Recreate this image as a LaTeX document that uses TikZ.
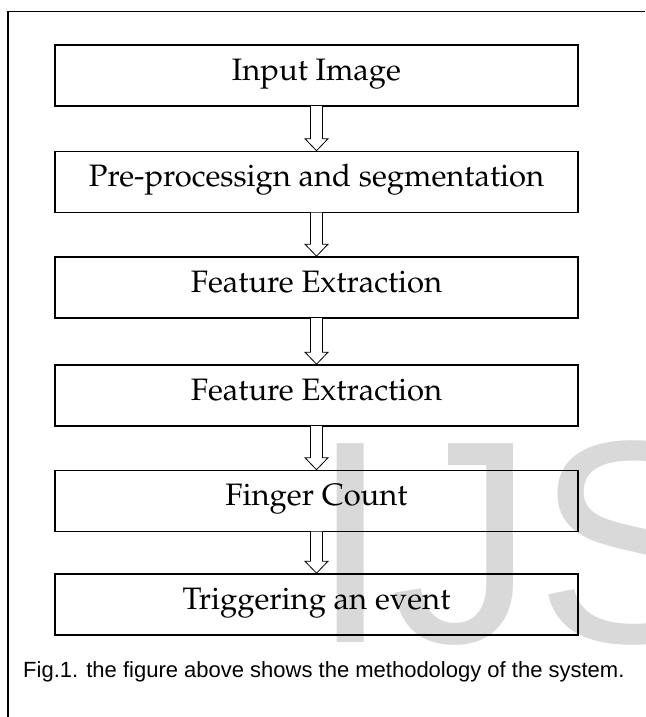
\documentclass[tikz,border=0pt]{standalone}
\usepackage[T1]{fontenc}
\usepackage{fontspec}
\newfontfamily\capfont{Liberation Sans}
\newcommand\pagfont{\fontencoding{T1}\fontfamily{ppl}\selectfont}
\usetikzlibrary{calc}
\newcommand\myblockarrow[2]{%
  \fill[white] let \p1=(#1.south), \p2=(#2.north) in
    (\x1-6pt,\y1+0.8pt) -- (\x1-6pt,\y2+12pt) -- (\x1-11.5pt,\y2+12pt) -- (\x1,\y2)
    -- (\x1+11.5pt,\y2+12pt) -- (\x1+6pt,\y2+12pt) -- (\x1+6pt,\y1+0.8pt) -- cycle;
  \draw[harrow] let \p1=(#1.south), \p2=(#2.north) in
    (\x1-6pt,\y1+0.8pt) -- (\x1-6pt,\y2+12pt) -- (\x1-11.5pt,\y2+12pt) -- (\x1,\y2)
    -- (\x1+11.5pt,\y2+12pt) -- (\x1+6pt,\y2+12pt) -- (\x1+6pt,\y1+0.8pt);
}
\begin{document}
\begin{tikzpicture}[x=1pt,y=-1pt,
  stepbox/.style={draw=black, line width=1.6pt, minimum width=523pt, minimum height=61pt,
    inner sep=0pt, text height=22pt, text depth=13pt,
    font=\pagfont\fontsize{31}{36}\selectfont},
  harrow/.style={draw=black, line width=0.8pt, line join=miter},
  frameline/.style={draw=black, line width=1.8pt},
  watermark/.style={anchor=base west, inner sep=0pt, text=black!15,
    font=\capfont\fontsize{289}{289}\selectfont},
  caption/.style={anchor=base west, inner sep=0pt,
    font=\capfont\fontsize{22}{26}\selectfont}]
\useasboundingbox (0,0) rectangle (645,717);
\clip (0,0) rectangle (645,717);
\node[watermark] (wm) at (310,642) {IJS};
\draw[frameline] (8,717) -- (8,11.5) -- (645,11.5);
\node[stepbox] (b1) at (316.5,75.5) {Input Image};
\node[stepbox] (b2) at (316.5,182) {Pre-processign and segmentation};
\node[stepbox] (b3) at (316.5,287.5) {Feature Extraction};
\node[stepbox] (b4) at (316.5,395.5) {Feature Extraction};
\node[stepbox] (b5) at (316.5,501) {Finger Count};
\node[stepbox] (b6) at (316.5,604.5) {Triggering an event};
\myblockarrow{b1}{b2}
\myblockarrow{b2}{b3}
\myblockarrow{b3}{b4}
\myblockarrow{b4}{b5}
\myblockarrow{b5}{b6}
\node[caption] (cap) at (23,677) {Fig.1. the figure above shows the methodology of the system.};
\end{tikzpicture}
\end{document}
